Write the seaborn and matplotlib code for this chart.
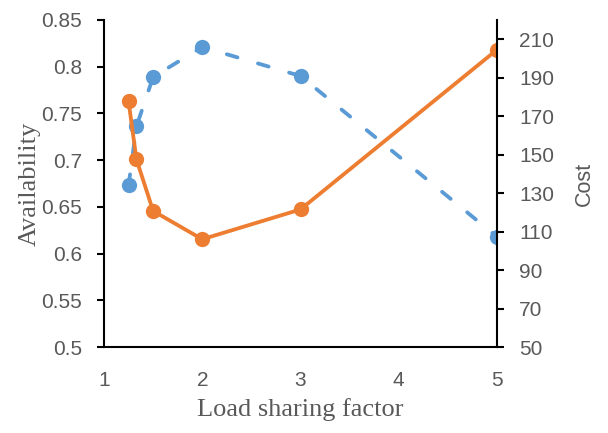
import matplotlib
matplotlib.use("Agg")
import matplotlib.pyplot as plt
import seaborn as sns

# ==============================
# DATA
# ==============================

load_factor = [1.25, 1.33, 1.5, 2, 3, 5]
availability = [0.673, 0.736, 0.789, 0.821, 0.790, 0.618]
cost = [177.6, 147.5, 120.7, 106, 121.5, 204.5]

x_ticks = [1, 2, 3, 4, 5]
avail_ticks = [0.5, 0.55, 0.6, 0.65, 0.7, 0.75, 0.8, 0.85]
avail_labels = ["0.5", "0.55", "0.6", "0.65", "0.7", "0.75", "0.8", "0.85"]
cost_ticks = [50, 70, 90, 110, 130, 150, 170, 190, 210]

blue = "#5B9BD5"
orange = "#ED7D31"
grey = "#595959"

# ==============================
# STYLE
# ==============================

sns.set_theme(style="white")
plt.rcParams["font.family"] = ["Liberation Sans", "DejaVu Sans"]

fig = plt.figure(figsize=(6.08, 4.33), dpi=100)
ax = fig.add_axes([0.1711, 0.1986, 0.8174 - 0.1711, 0.954 - 0.1986])
ax2 = ax.twinx()

# ==============================
# LINES
# ==============================

sns.lineplot(x=load_factor, y=availability, ax=ax, color=blue, marker="o",
             markersize=11, markeredgewidth=0, linewidth=2.75, sort=False)
ax.lines[0].set_dashes((2.9, 5.6))
ax.lines[0].set_dash_capstyle("round")

sns.lineplot(x=load_factor, y=cost, ax=ax2, color=orange, marker="o",
             markersize=11, markeredgewidth=0, linewidth=2.75, sort=False)

# ==============================
# AXES
# ==============================

ax.set_xlim(1, 5)
ax.set_ylim(0.5, 0.85)
ax2.set_ylim(50, 220)

ax.set_xticks(x_ticks)
ax.set_xticklabels([str(t) for t in x_ticks])
ax.set_yticks(avail_ticks)
ax.set_yticklabels(avail_labels)
ax2.set_yticks(cost_ticks)
ax2.set_yticklabels([str(t) for t in cost_ticks])

for a in (ax, ax2):
    a.spines["top"].set_visible(False)
    for s in ("left", "right", "bottom"):
        a.spines[s].set_color("black")
        a.spines[s].set_linewidth(1.5)
    a.tick_params(axis="both", which="major", direction="out", length=5,
                  width=1.5, color="black", labelsize=15, labelcolor=grey, pad=11)
    a.grid(False)

ax.tick_params(axis="x", pad=12)
ax.spines["right"].set_visible(False)
ax2.spines["left"].set_visible(False)
ax2.spines["bottom"].set_visible(False)

ax.set_xlabel("Load sharing factor", family=["Liberation Serif"], fontsize=19,
              color=grey, labelpad=6)
ax.set_ylabel("Availability", family=["Liberation Serif"], fontsize=19,
              color=grey, labelpad=0)
ax2.set_ylabel("Cost", fontsize=15.5, color=grey, labelpad=14)

fig.savefig("out.png", dpi=100)
